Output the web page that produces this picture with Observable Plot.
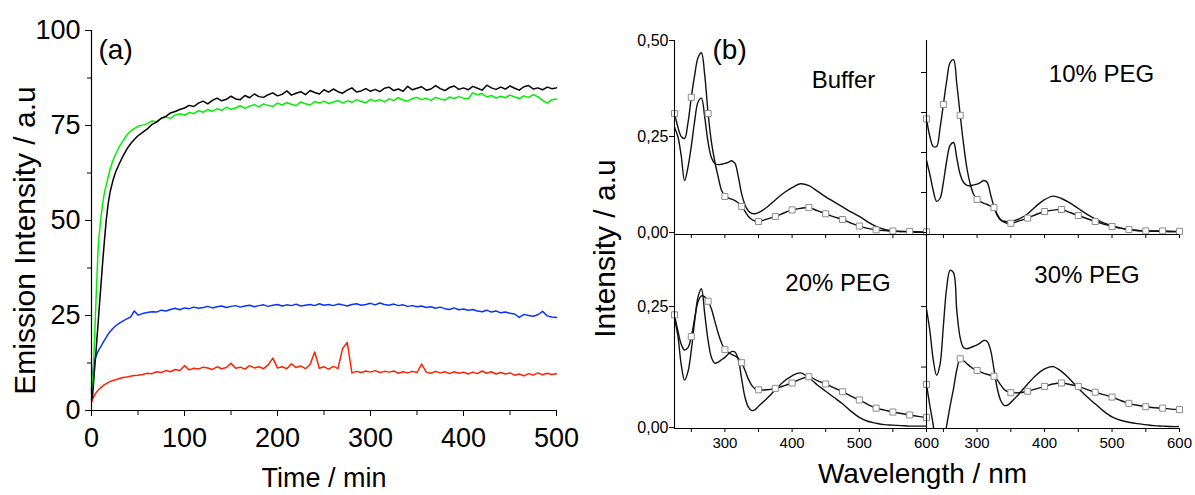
<!DOCTYPE html>
<html>
<head>
<meta charset="utf-8">
<script src="https://cdn.jsdelivr.net/npm/d3@7"></script>
<script src="https://cdn.jsdelivr.net/npm/@observablehq/plot@0.6"></script>
<style>
  body { margin: 0; background: #fff; }
  #chart { position: relative; width: 1195px; height: 495px; overflow: hidden; background: #fff; }
  #chart svg { position: absolute; left: 0; top: 0; }
</style>
</head>
<body>
<div id="chart"></div>
<script>
// ---------------- Panel (a): emission intensity vs time ----------------
const timeMin = [0,1,2,3,4,5,6,7,8,10,12,14,16,18,20,23,26,30,34,38,42,46,50,
  55,60,65,70,75,80,85,90,95,100,105,110,115,120,125,130,135,140,145,150,
  155,160,165,170,175,180,185,190,195,200,205,210,215,220,225,230,235,240,245,250,
  255,260,265,270,275,280,285,290,295,300,305,310,315,320,325,330,335,340,345,350,
  355,360,365,370,375,380,385,390,395,400,405,410,415,420,425,430,435,440,445,450,
  455,460,465,470,475,480,485,490,495,500];

const blackSeries = [3,3.5,6.5,10,13,16,19.5,22.5,26,32.5,39,45,50.5,54.5,57.5,60.5,62.8,65,67,68.8,70.2,71.3,72.3,
  73.2,74.1,75.3,75.9,76.9,77.4,78.3,78.7,79.2,79.6,
  80.3,80.0,80.9,81.4,80.7,81.6,82.2,81.5,81.9,82.7,
  82.0,81.8,82.9,82.3,83.3,82.6,82.4,83.1,83.6,82.8,
  83.2,84.1,83.0,83.5,83.9,83.1,84.2,83.7,83.3,84.4,
  83.8,84.6,83.9,83.5,84.3,84.9,83.8,84.1,84.7,84.0,
  84.5,83.9,84.8,85.1,84.2,84.6,84.0,85.3,84.4,84.8,
  85.2,84.3,84.6,85.5,84.7,84.2,85.0,85.4,84.5,84.9,
  84.4,85.3,84.8,84.3,85.6,84.9,84.5,85.1,84.6,85.4,
  84.8,84.3,85.2,85.5,84.6,84.9,84.4,85.1,84.7,84.9];

const greenSeries = [4.5,8,11,17,23.5,30,36,42,45.5,50.5,54.5,57.5,59.5,61.5,63.5,65.8,67.5,69.5,71,72.5,73.5,74.2,74.8,
  75.1,75.5,76.2,76.0,76.9,77.2,76.9,77.8,78.1,77.7,
  78.4,78.1,78.9,78.5,79.2,78.7,79.4,79.0,79.8,79.3,
  79.6,80.2,79.5,80.1,80.5,79.9,80.7,80.3,80.0,80.9,
  80.4,81.0,80.6,80.2,81.2,80.7,80.4,81.3,80.9,81.4,
  80.8,81.2,81.6,80.9,81.5,81.1,81.8,81.3,81.0,81.9,
  81.4,81.8,81.2,82.0,81.6,82.3,81.7,81.4,82.1,82.4,
  81.8,82.2,81.6,82.4,82.0,81.7,82.5,82.1,82.6,82.2,
  82.0,83.6,83.1,83.4,82.5,82.9,82.2,82.7,82.3,83.0,
  82.5,82.1,82.8,82.4,83.1,82.6,81.6,80.9,81.8,82.0];

const blueSeries = [5.3,9,11.5,12.8,13.6,14.3,15,15.5,16,16.8,17.7,18.5,19.3,20.1,20.8,21.6,22.3,23,23.6,24.1,24.6,26.2,25.1,
  25.5,25.8,26.0,25.9,26.4,26.2,26.6,26.9,26.5,27.0,
  26.8,27.2,26.9,27.1,27.4,27.0,27.3,27.5,27.1,27.4,
  27.6,27.2,27.5,27.7,27.3,27.6,27.8,27.4,27.7,27.9,
  27.5,27.8,27.6,28.0,27.5,27.7,27.9,27.6,28.1,27.7,
  27.9,27.6,28.0,27.8,27.5,27.9,28.1,27.7,27.9,28.2,
  27.8,28.3,27.9,27.7,28.0,27.6,27.8,27.4,27.6,27.3,
  27.5,27.1,27.3,26.9,27.2,26.8,26.6,27.0,26.5,26.7,
  26.4,26.6,26.2,26.0,26.4,25.9,26.2,25.7,25.9,25.6,
  25.4,24.5,25.3,25.0,24.8,25.2,26.1,24.9,24.6,24.5];

const redSeries = [2.2,2.8,3.4,3.9,4.3,4.7,5.0,5.3,5.6,6.0,6.4,6.8,7.1,7.4,7.6,7.9,8.1,8.4,8.7,8.8,9.0,9.2,9.3,
  9.5,9.8,9.7,10.2,10.0,10.5,10.2,10.8,10.5,11.8,
  10.7,11.1,10.9,11.4,11.2,10.8,11.5,11.0,11.3,12.4,
  11.1,11.4,10.9,11.8,11.2,11.5,11.0,12.0,13.8,11.2,
  11.5,11.0,12.3,11.3,11.7,11.0,12.1,15.4,11.1,11.5,
  10.9,11.6,11.0,16.3,17.9,9.9,10.3,10.0,10.4,10.1,
  10.5,10.0,10.3,10.1,10.4,9.8,10.2,9.9,10.3,10.0,
  12.2,10.1,9.8,10.3,9.9,10.2,9.7,10.2,9.8,10.1,
  9.6,10.1,9.7,10.4,9.8,10.2,9.6,10.0,9.6,9.9,
  9.3,9.6,9.1,9.7,9.3,9.9,9.4,9.8,9.5,9.7];

const timeTicks = [0,100,200,300,400,500];
const timeMinorTicks = [50,150,250,350,450];
const emissionTicks = [0,25,50,75,100];
const emissionMinorTicks = [12.5,37.5,62.5,87.5];

// ---------------- Panel (b): absorption spectra ----------------
const wavelengthNm = [225,230,235,240,245,250,255,260,265,270,275,280,285,290,295,300,305,310,315,320,325,330,335,340,345,350,
  362.5,375,387.5,400,412.5,425,437.5,450,462.5,475,487.5,500,512.5,525,537.5,550,562.5,575,587.5,600];

const bufferSolid = [0.274,0.25,0.2,0.135,0.17,0.225,0.29,0.34,0.35,0.3,0.235,0.195,0.18,0.177,0.178,0.18,0.183,0.187,0.18,0.145,0.1,0.072,0.056,0.05,0.049,0.052,
  0.066,0.085,0.103,0.117,0.127,0.122,0.108,0.093,0.08,0.067,0.054,0.042,0.028,0.016,0.008,0.004,0.003,0.002,0.001,0.001];
const bufferSquares = [0.31,0.275,0.25,0.245,0.285,0.352,0.41,0.455,0.468,0.41,0.31,0.235,0.185,0.145,0.11,0.094,0.09,0.087,0.083,0.077,0.068,0.055,0.042,0.034,0.03,0.029,
  0.035,0.042,0.051,0.059,0.063,0.065,0.057,0.049,0.041,0.034,0.025,0.017,0.011,0.007,0.005,0.004,0.003,0.003,0.002,0.002];

const peg10Solid = [0.18,0.145,0.105,0.078,0.085,0.125,0.18,0.218,0.225,0.185,0.145,0.125,0.118,0.117,0.119,0.121,0.125,0.13,0.125,0.095,0.065,0.042,0.031,0.028,0.027,0.028,
  0.034,0.047,0.066,0.082,0.091,0.085,0.074,0.06,0.046,0.034,0.024,0.017,0.011,0.007,0.005,0.004,0.003,0.003,0.002,0.002];
const peg10Squares = [0.284,0.24,0.215,0.215,0.26,0.32,0.38,0.425,0.432,0.37,0.293,0.22,0.16,0.12,0.095,0.0825,0.077,0.073,0.07,0.066,0.062,0.045,0.032,0.026,0.023,0.023,
  0.029,0.036,0.045,0.0525,0.056,0.0575,0.05,0.0425,0.035,0.0275,0.021,0.015,0.011,0.0075,0.005,0.004,0.004,0.004,0.003,0.003];

const peg20Solid = [0.225,0.19,0.13,0.098,0.115,0.16,0.22,0.27,0.287,0.235,0.18,0.145,0.133,0.135,0.14,0.145,0.152,0.157,0.156,0.14,0.1,0.062,0.042,0.035,0.037,0.044,
  0.06,0.078,0.095,0.107,0.113,0.103,0.088,0.075,0.062,0.049,0.034,0.021,0.013,0.009,0.006,0.005,0.004,0.003,0.003,0.003];
const peg20Squares = [0.233,0.2,0.172,0.16,0.165,0.188,0.225,0.26,0.272,0.27,0.261,0.245,0.22,0.195,0.175,0.161,0.155,0.151,0.148,0.143,0.134,0.118,0.1,0.087,0.08,0.078,
  0.078,0.081,0.086,0.092,0.1,0.105,0.097,0.09,0.082,0.074,0.065,0.057,0.048,0.04,0.036,0.032,0.029,0.026,0.023,0.021];

const peg30Solid = [0.245,0.2,0.14,0.108,0.13,0.21,0.29,0.325,0.32,0.24,0.185,0.165,0.163,0.165,0.168,0.171,0.175,0.18,0.178,0.16,0.12,0.08,0.056,0.046,0.046,0.052,
  0.07,0.09,0.108,0.121,0.126,0.116,0.1,0.081,0.064,0.049,0.034,0.022,0.015,0.011,0.008,0.006,0.004,0.003,0.002,0.002];
const peg30Squares = [0.089,0.045,0.005,-0.05,-0.07,-0.03,0.005,0.045,0.08,0.12,0.142,0.138,0.132,0.126,0.121,0.118,0.115,0.112,0.11,0.108,0.106,0.098,0.088,0.079,0.074,0.072,
  0.072,0.075,0.08,0.085,0.09,0.092,0.089,0.085,0.079,0.073,0.068,0.063,0.056,0.05,0.046,0.043,0.041,0.04,0.038,0.037];

const wlTicks = [300,400,500,600];
const wlMinorTicks = [250,350,450,550];
const absTicksTopLeft = [0,0.25,0.5];
const absTicksTopRight = [0,0.1,0.2,0.3,0.4];
const absTicksBottomLeft = [0,0.25];
const absTicksBottomRight = [0.125,0.25];
const markerWavelengths = [225,250,275,300,325,350,375,400,425,450,475,500,525,550,575,600];

// ---------------- drawing ----------------
const W = 1195, H = 495;
const FONT = "'Liberation Sans', Arial, Helvetica, sans-serif";
const chart = document.getElementById("chart");
const blank = () => "";
const comma2 = d => d.toFixed(2).replace(".", ",");
const baseStyle = {background: "transparent", fontFamily: FONT, color: "#000", overflow: "visible"};

const rowsA = timeMin.map((t, i) => ({t, black: blackSeries[i], green: greenSeries[i], blue: blueSeries[i], red: redSeries[i]}));
const seriesColors = [["red", "#ff2200"], ["blue", "#0a32ff"], ["green", "#00f000"], ["black", "#000000"]];

const plotA = Plot.plot({
  width: W, height: H,
  marginLeft: 91, marginRight: W - 556, marginTop: 30, marginBottom: H - 410,
  style: baseStyle,
  x: {domain: [0, 500], label: null},
  y: {domain: [0, 100], label: null},
  marks: [
    Plot.axisX(timeTicks, {tickSize: 6, tickPadding: 11, fontSize: 27, tickFormat: d => String(d), label: null}),
    Plot.axisX(timeMinorTicks, {tickSize: 5, tickFormat: blank, label: null}),
    Plot.axisY(emissionTicks, {tickSize: 6, tickPadding: 5, fontSize: 27, tickFormat: d => String(d), label: null}),
    Plot.axisY(emissionMinorTicks, {tickSize: 4, tickFormat: blank, label: null}),
    ...seriesColors.map(([k, c]) => Plot.line(rowsA, {x: "t", y: k, stroke: c, strokeWidth: 1.5})),
    Plot.ruleX([0], {stroke: "#000", strokeWidth: 1.2}),
    Plot.ruleY([0], {stroke: "#000", strokeWidth: 1.2}),
    Plot.text(["(a)"], {text: d => d, frameAnchor: "top-left", textAnchor: "start", lineAnchor: "middle", dx: 7, dy: 20, fontSize: 28}),
    Plot.text(["Emission Intensity / a.u"], {text: d => d, frameAnchor: "top-left", textAnchor: "middle", lineAnchor: "middle", rotate: -90, dx: -66, dy: 210, fontSize: 30}),
    Plot.text(["Time / min"], {text: d => d, frameAnchor: "top-left", textAnchor: "middle", lineAnchor: "middle", dx: 232.5, dy: 448, fontSize: 27})
  ]
});
chart.appendChild(plotA);

function spectrumPanel(cfg) {
  const rows = wavelengthNm.map((w, i) => ({w, solid: cfg.solid[i], sq: cfg.squares[i]}));
  const markers = rows.filter(r => markerWavelengths.includes(r.w) && r.sq >= cfg.yDomain[0]);
  const marks = [
    Plot.axisY(cfg.yTicks, {tickSize: 5, tickPadding: 1, fontSize: 16, tickFormat: cfg.yLabels ? comma2 : blank, label: null}),
  ];
  if (cfg.xLabels) {
    marks.push(Plot.axisX(wlTicks, {tickSize: 4, tickPadding: 5, fontSize: 15, tickFormat: d => String(d), label: null}));
    marks.push(Plot.axisX(wlMinorTicks, {tickSize: 4, tickFormat: blank, label: null}));
  } else {
    marks.push(Plot.axisX([...wlMinorTicks, ...wlTicks], {tickSize: 4, tickFormat: blank, label: null}));
  }
  marks.push(
    Plot.line(rows, {x: "w", y: "solid", stroke: "#111", strokeWidth: 1.4, curve: "catmull-rom", clip: true}),
    Plot.line(rows, {x: "w", y: "sq", stroke: "#111", strokeWidth: 1.4, curve: "catmull-rom", clip: true}),
    Plot.dot(markers, {x: "w", y: "sq", symbol: "square", r: 3.4, fill: "#fff", stroke: "#8c8c8c", strokeWidth: 1}),
    Plot.ruleX([225], {stroke: "#000", strokeWidth: 1.1}),
    Plot.ruleY([cfg.yDomain[0]], {stroke: "#000", strokeWidth: 1.1}),
    Plot.text([cfg.name], {text: d => d, frameAnchor: "top-left", textAnchor: "middle", lineAnchor: "middle", dx: cfg.nameDx, dy: cfg.nameDy, fontSize: 24})
  );
  if (cfg.extra) marks.push(...cfg.extra);
  return Plot.plot({
    width: W, height: H,
    marginLeft: cfg.left, marginRight: W - cfg.right, marginTop: cfg.top, marginBottom: H - cfg.bottom,
    style: baseStyle,
    x: {domain: [225, 600], label: null},
    y: {domain: cfg.yDomain, label: null},
    marks
  });
}

chart.appendChild(spectrumPanel({
  name: "Buffer", solid: bufferSolid, squares: bufferSquares,
  left: 674, right: 926, top: 40, bottom: 234, yDomain: [-0.005, 0.5],
  yTicks: absTicksTopLeft, yLabels: true, xLabels: false, nameDx: 169, nameDy: 40,
  extra: [
    Plot.text(["(b)"], {text: d => d, frameAnchor: "top-left", textAnchor: "start", lineAnchor: "middle", dx: 38, dy: 10, fontSize: 28}),
    Plot.text(["Intensity / a.u"], {text: d => d, frameAnchor: "top-left", textAnchor: "middle", lineAnchor: "middle", rotate: -90, dx: -69, dy: 208, fontSize: 30})
  ]
}));
chart.appendChild(spectrumPanel({
  name: "10% PEG", solid: peg10Solid, squares: peg10Squares,
  left: 926, right: 1179, top: 40, bottom: 234, yDomain: [-0.005, 0.48],
  yTicks: absTicksTopRight, yLabels: false, xLabels: false, nameDx: 175, nameDy: 34
}));
chart.appendChild(spectrumPanel({
  name: "20% PEG", solid: peg20Solid, squares: peg20Squares,
  left: 674, right: 926, top: 234, bottom: 428, yDomain: [-0.002, 0.399],
  yTicks: absTicksBottomLeft, yLabels: true, xLabels: true, nameDx: 163.5, nameDy: 49,
  extra: [
    Plot.text(["Wavelength / nm"], {text: d => d, frameAnchor: "top-left", textAnchor: "middle", lineAnchor: "middle", dx: 248, dy: 240, fontSize: 28})
  ]
}));
chart.appendChild(spectrumPanel({
  name: "30% PEG", solid: peg30Solid, squares: peg30Squares,
  left: 926, right: 1179, top: 234, bottom: 428, yDomain: [-0.002, 0.399],
  yTicks: absTicksBottomRight, yLabels: false, xLabels: true, nameDx: 160.5, nameDy: 41
}));
</script>
</body>
</html>
